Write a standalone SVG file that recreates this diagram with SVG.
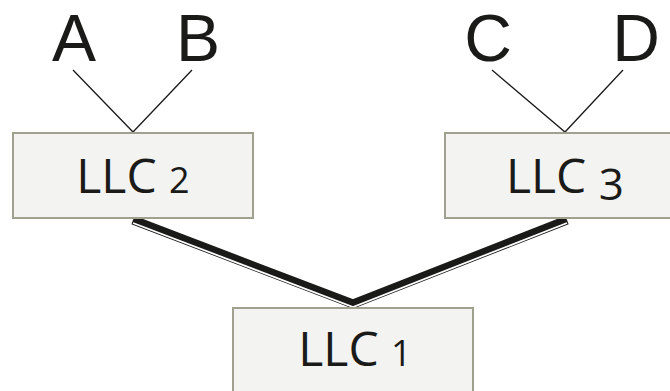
<svg xmlns="http://www.w3.org/2000/svg" width="670" height="391" viewBox="0 0 670 391">
<style>
.box{fill:#f3f3f2;stroke:#a0a08e;stroke-width:2}
.lbl{font-family:"Open Sans","Liberation Sans",sans-serif;font-size:48px;fill:#1a1a18;text-anchor:middle}
.big{font-family:"Liberation Sans","Open Sans",sans-serif;font-size:66px;fill:#1a1a18;text-anchor:middle}
.thin{stroke:#1a1a18;stroke-width:1.3;fill:none}
.dbl{stroke:#1a1a18;stroke-width:9;fill:none;stroke-linejoin:miter}
.gap{stroke:#ffffff;stroke-width:1.8;fill:none}
</style>
<g id="connectors">
<polyline class="dbl" points="133,220 353,304 567,220"/>
<polyline class="gap" points="133,223 353,307 567,223"/>
<polyline class="thin" points="73,70 133,132 192,70"/>
<polyline class="thin" points="492,70 565,132 623,70"/>
</g>
<g id="A"><text class="big" x="74" y="61">A</text></g>
<g id="B"><text class="big" x="198" y="61">B</text></g>
<g id="C"><text class="big" x="488" y="61">C</text></g>
<g id="D"><text class="big" x="636" y="61">D</text></g>
<g id="llc2">
<rect class="box" x="13" y="133" width="240" height="85"/>
<text class="lbl" x="133" y="193">LLC <tspan font-size="36">2</tspan></text>
</g>
<g id="llc3">
<rect class="box" x="445" y="133" width="240" height="85"/>
<text class="lbl" x="565" y="193">LLC <tspan font-size="44" dy="7">3</tspan></text>
</g>
<g id="llc1">
<rect class="box" x="233" y="308" width="240" height="90"/>
<text class="lbl" x="355" y="366">LLC <tspan font-size="36">1</tspan></text>
</g>
</svg>
